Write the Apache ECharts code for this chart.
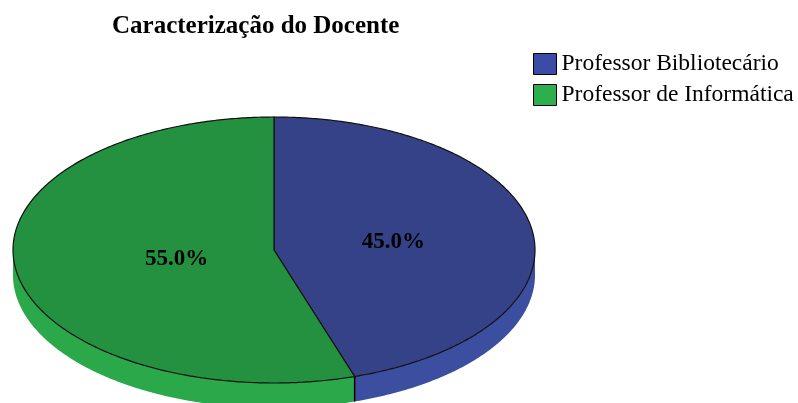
<!DOCTYPE html>
<html>
<head>
<meta charset="utf-8">
<script src="https://cdn.jsdelivr.net/npm/echarts@6/dist/echarts.min.js"></script>
<style>
html,body{margin:0;padding:0;background:#fff;}
#chart{width:798px;height:403px;}
</style>
</head>
<body>
<div id="chart"></div>
<script>
// dados do gráfico
var categories = ['Professor Bibliotecário', 'Professor de Informática'];
var values = [45.0, 55.0];

var COLOR = {
	TOP: ['#364288', '#23913F'],
	SIDE: ['#3C4EA0', '#2AA84A'],
	LEGEND: ['#3B4CA6', '#2DAF4D']
};

// elipse da "pizza 3D"
var PIE = { cx: 274, cy: 250, rx: 261, ry: 133, depth: 25 };

var total = values.reduce(function(a, b){ return a + b; }, 0);

// ângulo medido no sentido horário a partir do topo
function pt(a, dy){
	return [PIE.cx + PIE.rx * Math.sin(a), PIE.cy - PIE.ry * Math.cos(a) + (dy || 0)];
}

function arcPoints(a0, a1, dy){
	var pts = [];
	var n = Math.max(2, Math.ceil(Math.abs(a1 - a0) / 0.01));
	for (var k = 0; k <= n; k++){
		pts.push(pt(a0 + (a1 - a0) * k / n, dy));
	}
	return pts;
}

function renderSlice(params, api){
	var idx = params.seriesIndex;
	var before = 0;
	for (var j = 0; j < idx; j++) before += values[j];
	var v = api.value(0);
	var a0 = before / total * 2 * Math.PI;
	var a1 = (before + v) / total * 2 * Math.PI;
	var children = [];

	// lateral visível (metade de baixo: PI/2 .. 3PI/2)
	var s0 = Math.max(a0, Math.PI / 2), s1 = Math.min(a1, 3 * Math.PI / 2);
	if (s1 > s0){
		var top = arcPoints(s0, s1, 0);
		var bot = arcPoints(s0, s1, PIE.depth).reverse();
		children.push({
			type: 'polygon',
			shape: { points: top.concat(bot) },
			style: { fill: COLOR.SIDE[idx], stroke: null }
		});
		// aresta vertical na divisa das fatias
		if (a0 > Math.PI / 2 && a0 < 3 * Math.PI / 2){
			var e0 = pt(a0, 0), e1 = pt(a0, PIE.depth);
			children.push({
				type: 'line',
				shape: { x1: e0[0], y1: e0[1], x2: e1[0], y2: e1[1] },
				style: { stroke: '#000', lineWidth: 1.5 }
			});
		}
	}

	// face de cima
	var face = [[PIE.cx, PIE.cy]].concat(arcPoints(a0, a1, 0));
	children.push({
		type: 'polygon',
		shape: { points: face },
		style: { fill: COLOR.TOP[idx], stroke: '#111', lineWidth: 1.2 }
	});

	// rótulo de porcentagem
	var mid = (a0 + a1) / 2;
	var f = 0.42;
	children.push({
		type: 'text',
		x: PIE.cx + f * PIE.rx * Math.sin(mid) + 11,
		y: PIE.cy - f * PIE.ry * Math.cos(mid) + 0.5,
		style: {
			text: (v / total * 100).toFixed(1) + '%',
			fill: '#000',
			font: 'bold 23px "Liberation Serif"',
			align: 'center',
			verticalAlign: 'middle'
		}
	});

	return { type: 'group', children: children };
}

var myChart = echarts.init(document.getElementById('chart'));

var series = [];
for (var i = 0; i < categories.length; i++){
	series.push({
		name: categories[i],
		type: 'custom',
		coordinateSystem: 'none',
		renderItem: renderSlice,
		itemStyle: { color: COLOR.LEGEND[i] },
		data: [[values[i]]],
		silent: true
	});
}

myChart.setOption({
	animation: false,
	title: {
		text: 'Caracterização do Docente',
		left: 107,
		top: 9,
		textStyle: {
			fontFamily: 'Liberation Serif',
			fontWeight: 'bold',
			fontSize: 25,
			color: '#000'
		}
	},
	legend: {
		orient: 'vertical',
		left: 533,
		top: 52,
		padding: 0,
		itemWidth: 23,
		itemHeight: 21,
		itemGap: 7,
		selectedMode: false,
		textStyle: {
			fontFamily: 'Liberation Serif',
			fontSize: 23.5,
			color: '#000'
		},
		data: categories.map(function(n, i){
			return { name: n, icon: 'rect', itemStyle: { color: COLOR.LEGEND[i], borderColor: '#000', borderWidth: 1 } };
		})
	},
	series: series
});
</script>
</body>
</html>
